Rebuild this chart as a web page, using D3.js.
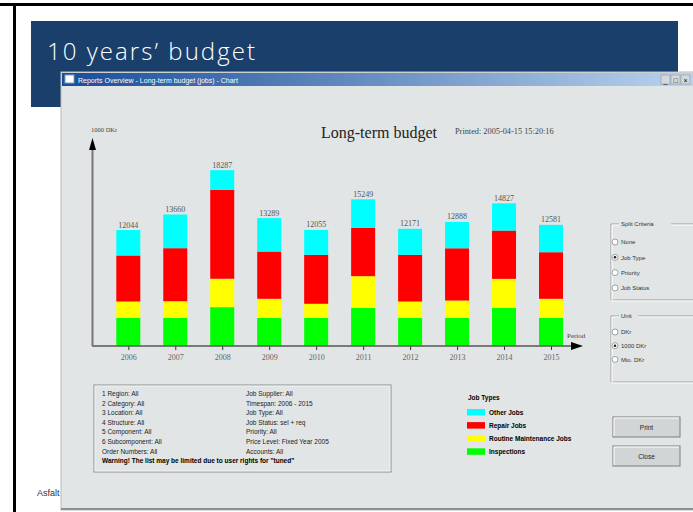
<!DOCTYPE html>
<html><head><meta charset="utf-8">
<script src="https://cdn.jsdelivr.net/npm/d3@7"></script>
<style>body{margin:0;background:#fff;overflow:hidden}svg{display:block}</style>
</head><body><svg id="c" width="693" height="512"></svg>
<script>
// ---- data ----
const years = ["2006","2007","2008","2009","2010","2011","2012","2013","2014","2015"];
const inspections = [2890,2890,4000,2890,2890,3930,2890,2890,3930,2890];
const routineMaintenance = [1700,1730,2960,1980,1460,3300,1700,1800,3020,1980];
const repairJobs = [4800,5530,9280,4930,5110,5050,4870,5450,5040,4860];
const otherJobs = [2654,3510,2047,3489,2595,2969,2711,2748,2837,2851];
const totalLabels = ["12044","13660","18287","13289","12055","15249","12171","12888","14827","12581"];
const seriesKeys = ["inspections","routine","repair","other"];
const seriesNames = {inspections:"Inspections",routine:"Routine Maintenance Jobs",repair:"Repair Jobs",other:"Other Jobs"};
const seriesColors = {inspections:"#00ff00",routine:"#ffff00",repair:"#ff0000",other:"#00ffff"};
const legendOrder = ["other","repair","routine","inspections"];
const filtersLeft = ["1 Region: All","2 Category: All","3 Location: All","4 Structure: All","5 Component: All","6 Subcomponent: All","Order Numbers: All"];
const filtersRight = ["Job Supplier: All","Timespan: 2006 - 2015","Job Type: All","Job Status: sel + req","Priority: All","Price Level: Fixed Year 2005","Accounts: All"];
const warningText = "Warning! The list may be limited due to user rights for \"tuned\"";
const splitOptions = ["None","Job Type","Priority","Job Status"];
const unitOptions = ["DKr","1000 DKr","Mio. DKr"];

const table = years.map((y,i)=>({year:y,inspections:inspections[i],routine:routineMaintenance[i],repair:repairJobs[i],other:otherJobs[i],label:totalLabels[i]}));

const svg = d3.select("#c");
const SANS = "'Liberation Sans', Arial, sans-serif";
const SERIF = "'Liberation Serif', 'Times New Roman', serif";

// ---- slide ----
svg.append("rect").attr("x",0).attr("y",0).attr("width",693).attr("height",512).attr("fill","#fff");
svg.append("rect").attr("x",0).attr("y",3).attr("width",693).attr("height",3).attr("fill","#000");
svg.append("rect").attr("x",13).attr("y",3).attr("width",3).attr("height",509).attr("fill","#000");
svg.append("rect").attr("x",31).attr("y",21).attr("width",647).attr("height",86).attr("fill","#1b3f6b");
svg.append("text").attr("x",47).attr("y",60).attr("fill","#fff")
  .attr("textLength",208).attr("lengthAdjust","spacing")
  .style("font-family","'Open Sans', 'Noto Sans', sans-serif").style("font-size","24px").style("font-weight","300")
  .text("10 years’ budget");
svg.append("text").attr("x",37).attr("y",496).attr("fill","#333")
  .style("font-family",SANS).style("font-size","9px").text("Asfalt");

// ---- window ----
const defs = svg.append("defs");
const grad = defs.append("linearGradient").attr("id","tb").attr("x1","0").attr("x2","1");
grad.append("stop").attr("offset","0").attr("stop-color","#1a4d99");
grad.append("stop").attr("offset","1").attr("stop-color","#bcd5ee");
svg.append("rect").attr("x",61).attr("y",72).attr("width",640).attr("height",438).attr("fill","#e1e5e5").attr("stroke","#b8bcbc");
svg.append("rect").attr("x",62).attr("y",73).attr("width",640).attr("height",13).attr("fill","url(#tb)");
svg.append("rect").attr("x",65).attr("y",75).attr("width",9).attr("height",8).attr("fill","#fff").attr("stroke","#7fa0c8");
svg.append("text").attr("x",78).attr("y",82.5).attr("fill","#fff").style("font-family",SANS).style("font-size","7px")
  .text("Reports Overview - Long-term budget (jobs) - Chart");
["_","□","×"].forEach((s,i)=>{
  svg.append("rect").attr("x",661+i*10).attr("y",75).attr("width",9).attr("height",9).attr("fill","#d4d8d8").attr("stroke","#8a8a8a").attr("stroke-width",0.5);
  svg.append("text").attr("x",665.5+i*10).attr("y",82.5).attr("text-anchor","middle").attr("fill","#000").style("font-family",SANS).style("font-size","7px").text(s);
});
svg.append("line").attr("x1",61).attr("x2",693).attr("y1",509).attr("y2",509).attr("stroke","#8d9090").attr("stroke-width",2);

// ---- chart ----
const x = d3.scalePoint().domain(years).range([128.3,551]);
const y = d3.scaleLinear().domain([0,20000]).range([345.5,345.5-20000/104.3]);
const barW = 24;
const stack = d3.stack().keys(seriesKeys)(table);

const g = svg.append("g");
g.selectAll("g.s").data(stack).join("g").attr("fill",d=>seriesColors[d.key])
  .selectAll("rect").data(d=>d).join("rect")
  .attr("x",d=>x(d.data.year)-barW/2).attr("width",barW)
  .attr("y",d=>y(d[1])).attr("height",d=>y(d[0])-y(d[1]));

g.selectAll("text.tot").data(stack[stack.length-1]).join("text").attr("class","tot")
  .attr("x",d=>x(d.data.year)).attr("y",d=>y(d[1])-2.5).attr("text-anchor","middle")
  .attr("fill","#555").style("font-family",SERIF).style("font-size","8px").text(d=>d.data.label);

// axes
const xAxis = g.append("g").attr("transform","translate(0,346)")
  .call(d3.axisBottom(x).tickSize(4).tickPadding(4));
xAxis.select(".domain").remove();
xAxis.selectAll(".tick line").attr("stroke","#333");
xAxis.selectAll(".tick text").attr("fill","#666").style("font-family",SERIF).style("font-size","8px");
g.append("line").attr("x1",92).attr("x2",574).attr("y1",346).attr("y2",346).attr("stroke","#555").attr("stroke-width",1.6);
g.append("path").attr("d","M571,342 L583,346 L571,350 Z").attr("fill","#000");
g.append("line").attr("x1",92.5).attr("x2",92.5).attr("y1",149).attr("y2",346).attr("stroke","#777").attr("stroke-width",2);
g.append("path").attr("d","M89,150 L92.5,138 L96,150 Z").attr("fill","#000");
g.append("text").attr("x",567).attr("y",338).attr("fill","#444").style("font-family",SERIF).style("font-size","7px").text("Period");
g.append("text").attr("x",91).attr("y",132).attr("fill","#444").style("font-family",SERIF).style("font-size","6.5px").text("1000 DKr");
g.append("text").attr("x",321).attr("y",138).attr("fill","#222").style("font-family",SERIF).style("font-size","16px").text("Long-term budget");
g.append("text").attr("x",455).attr("y",134).attr("fill","#444").style("font-family",SERIF).style("font-size","8.3px").text("Printed: 2005-04-15 15:20:16");

// ---- filter box ----
svg.append("rect").attr("x",94).attr("y",385).attr("width",297).attr("height",87).attr("fill","none").attr("stroke","#8c8f8f").attr("stroke-width",1);
svg.append("rect").attr("x",95).attr("y",386).attr("width",295).attr("height",85).attr("fill","none").attr("stroke","#fff").attr("stroke-width",0.6);
const lineY = i => 396 + i*9.6;
svg.selectAll("text.fl").data(filtersLeft).join("text").attr("class","fl")
  .attr("x",102).attr("y",(d,i)=>lineY(i)).attr("fill","#222").style("font-family",SANS).style("font-size","6.5px").text(d=>d);
svg.selectAll("text.fr").data(filtersRight).join("text").attr("class","fr")
  .attr("x",246).attr("y",(d,i)=>lineY(i)).attr("fill","#222").style("font-family",SANS).style("font-size","6.5px").text(d=>d);
svg.append("text").attr("x",102).attr("y",lineY(7)).attr("fill","#000").style("font-family",SANS).style("font-size","6.5px").style("font-weight","bold").text(warningText);

// ---- legend ----
svg.append("text").attr("x",468).attr("y",400).attr("fill","#000").style("font-family",SANS).style("font-size","6.5px").style("font-weight","bold").text("Job Types");
const lg = svg.selectAll("g.lg").data(legendOrder).join("g").attr("class","lg")
  .attr("transform",(d,i)=>`translate(467,${409+i*13.1})`);
lg.append("rect").attr("width",18).attr("height",6.5).attr("fill",d=>seriesColors[d]);
lg.append("text").attr("x",22).attr("y",6).attr("fill","#000").style("font-family",SANS).style("font-size","6.5px").style("font-weight","bold").text(d=>seriesNames[d]);

// ---- buttons ----
[["Print",417],["Close",446]].forEach(([t,by])=>{
  svg.append("rect").attr("x",613).attr("y",by).attr("width",67).attr("height",20).attr("fill","#d2d5d5").attr("stroke","#7c7f7f");
  svg.append("path").attr("d",`M614,${by+19} V${by+1} H679`).attr("fill","none").attr("stroke","#fff");
  svg.append("text").attr("x",646.5).attr("y",by+12.5).attr("text-anchor","middle").attr("fill","#222").style("font-family",SANS).style("font-size","6.5px").text(t);
});

// ---- group boxes ----
function groupBox(x0,y0,y1,title,opts,checked,oy,dy){
  svg.append("path").attr("d",`M${x0+8},${y0} H${x0} V${y1} H700`).attr("fill","none").attr("stroke","#9a9d9d");
  svg.append("path").attr("d",`M${x0+8},${y0+1} H${x0+1} V${y1+1} H700`).attr("fill","none").attr("stroke","#fff");
  const tw = title.length*3.3+6;
  svg.append("path").attr("d",`M${x0+8+tw},${y0} H700`).attr("fill","none").attr("stroke","#9a9d9d");
  svg.append("path").attr("d",`M${x0+8+tw},${y0+1} H700`).attr("fill","none").attr("stroke","#fff");
  svg.append("text").attr("x",x0+10).attr("y",y0+2).attr("fill","#333").style("font-family",SANS).style("font-size","6px").text(title);
  opts.forEach((o,i)=>{
    const cy = oy+i*dy;
    svg.append("circle").attr("cx",x0+4).attr("cy",cy).attr("r",3).attr("fill","#fff").attr("stroke","#8a8d8d").attr("stroke-width",0.8);
    if(i===checked) svg.append("circle").attr("cx",x0+4).attr("cy",cy).attr("r",1.3).attr("fill","#222");
    svg.append("text").attr("x",x0+10).attr("y",cy+2.3).attr("fill","#333").style("font-family",SANS).style("font-size","6px").text(o);
  });
}
groupBox(611,224,300,"Split Criteria",splitOptions,1,242,15.3);
groupBox(611,316,382,"Unit",unitOptions,1,332,13.7);
</script></body></html>
